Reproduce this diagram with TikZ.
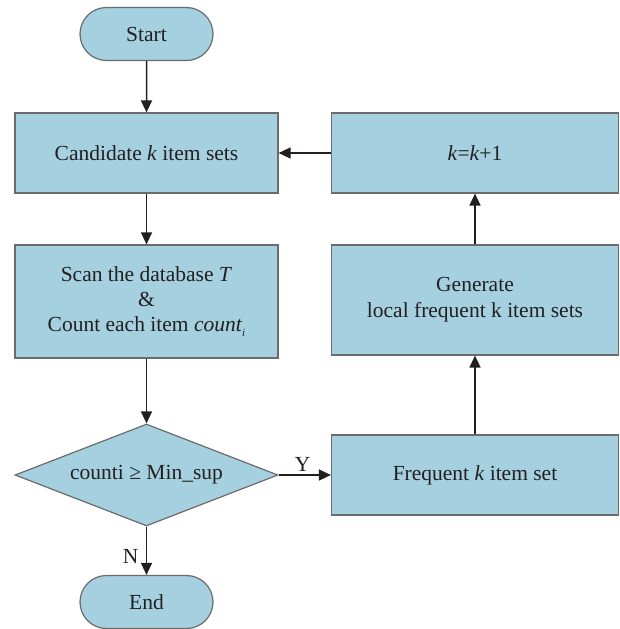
\documentclass[tikz,border=0pt]{standalone}
\usepackage{fontspec}
\setmainfont{Liberation Serif}
\usetikzlibrary{shapes.geometric,shapes.misc,arrows.meta}
\definecolor{boxfill}{HTML}{A5D0E0}
\definecolor{boxline}{HTML}{6B6B6B}
\definecolor{ink}{HTML}{231F20}
\tikzset{
  every node/.style={text=ink, font=\fontsize{21.5}{26}\selectfont},
  procbox/.style={draw=boxline, fill=boxfill, line width=1.2pt, rectangle, inner sep=0pt, align=center},
  termbox/.style={draw=boxline, fill=boxfill, line width=1.2pt, rounded rectangle, inner sep=0pt,
    minimum width=133pt, minimum height=53pt},
  decbox/.style={draw=boxline, fill=boxfill, line width=1.2pt, diamond, inner sep=0pt,
    aspect=2.58, minimum width=263pt, minimum height=102pt},
  flow/.style={draw=ink, line width=1.5pt, -{Triangle[length=12pt,width=11pt]}}
}
\newcommand{\smallsub}[1]{\raisebox{-5pt}{\fontsize{11}{11}\selectfont\itshape #1}}
\begin{document}
\begin{tikzpicture}[x=1pt,y=-1pt]
  \useasboundingbox (0,0) rectangle (620,629);
  % left column
  \node[termbox] (start) at (146.5,34) {Start};
  \node[procbox, minimum width=263pt, minimum height=80pt] (cand) at (146.5,153) {Candidate \textit{k} item sets};
  \node[procbox, minimum width=263pt, minimum height=113pt] (scan) at (146.5,301.5)
    {Scan the database \textit{T}\\[-1pt] \&\\[-1pt] Count each item \textit{count}\smallsub{i}};
  \node[decbox] (dec) at (146.5,475) {counti \char"2265{} Min\_sup};
  \node[termbox] (end) at (146.5,602) {End};
  % right column
  \node[procbox, minimum width=287pt, minimum height=80pt] (inc) at (475,153) {\textit{k}=\textit{k}+1};
  \node[procbox, minimum width=287pt, minimum height=110pt] (gen) at (475,300)
    {Generate\\[0pt] local frequent k item sets};
  \node[procbox, minimum width=287pt, minimum height=80pt] (freq) at (475,475) {Frequent \textit{k} item set};
  % connectors
  \draw[flow] (start) -- (cand);
  \draw[flow] (cand) -- (scan);
  \draw[flow] (scan) -- (dec);
  \draw[flow] (dec) -- node[left, xshift=-4pt, yshift=-6pt] {N} (end);
  \draw[flow] (dec) -- node[above, xshift=-2pt, yshift=-1pt] {Y} (freq);
  \draw[flow] (freq) -- (gen);
  \draw[flow] (gen) -- (inc);
  \draw[flow] (inc) -- (cand);
\end{tikzpicture}
\end{document}
